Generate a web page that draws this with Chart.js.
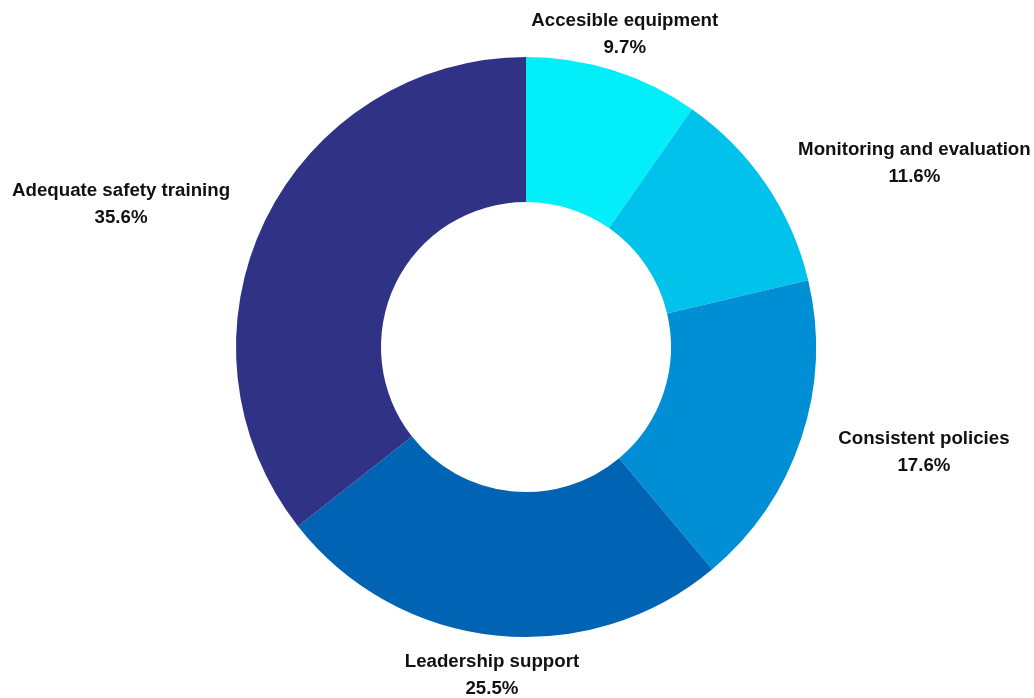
<!DOCTYPE html>
<html>
<head>
<meta charset="utf-8">
<script src="https://cdn.jsdelivr.net/npm/chart.js@4/dist/chart.umd.min.js"></script>
<style>
html,body{margin:0;padding:0;background:#fff;}
#wrap{width:1034px;height:698px;position:relative;}
</style>
</head>
<body>
<div id="wrap"><canvas id="c" width="1034" height="698"></canvas></div>
<script>
const categories = ["Accesible equipment","Monitoring and evaluation","Consistent policies","Leadership support","Adequate safety training"];
const values = [9.7, 11.6, 17.6, 25.5, 35.6];
const valueLabels = ["9.7%","11.6%","17.6%","25.5%","35.6%"];
const colors = ["#02EEF8","#00C2EB","#008FD4","#0063B3","#303385"];

const outsideLabels = {
  id: 'outsideLabels',
  afterDraw(chart) {
    const ctx = chart.ctx;
    const meta = chart.getDatasetMeta(0);
    ctx.save();
    ctx.font = 'bold 18.7px "Liberation Sans", Arial, sans-serif';
    ctx.fillStyle = '#111111';
    ctx.textBaseline = 'middle';
    ctx.textAlign = 'center';
    meta.data.forEach((arc, i) => {
      const mid = (arc.startAngle + arc.endAngle) / 2;
      const d = arc.outerRadius + 39;
      const x = arc.x + Math.cos(mid) * d;
      const y = arc.y + Math.sin(mid) * d + 1.5;
      const c = Math.cos(mid);
      const w = Math.max(ctx.measureText(categories[i]).width, ctx.measureText(valueLabels[i]).width);
      let cx = x;
      if (c > 0.5) cx = x + w / 2;
      else if (c < -0.5) cx = x - w / 2;
      ctx.fillText(categories[i], cx, y - 13.5);
      ctx.fillText(valueLabels[i], cx, y + 13.5);
    });
    ctx.restore();
  }
};

new Chart(document.getElementById('c'), {
  type: 'doughnut',
  data: {
    labels: categories,
    datasets: [{
      data: values,
      backgroundColor: colors,
      borderWidth: 0,
      hoverOffset: 0
    }]
  },
  options: {
    responsive: false,
    animation: false,
    cutout: '50%',
    radius: 290,
    layout: { padding: { left: 100, right: 82, top: 57, bottom: 61 } },
    plugins: {
      legend: { display: false },
      tooltip: { enabled: false }
    }
  },
  plugins: [outsideLabels]
});
</script>
</body>
</html>
